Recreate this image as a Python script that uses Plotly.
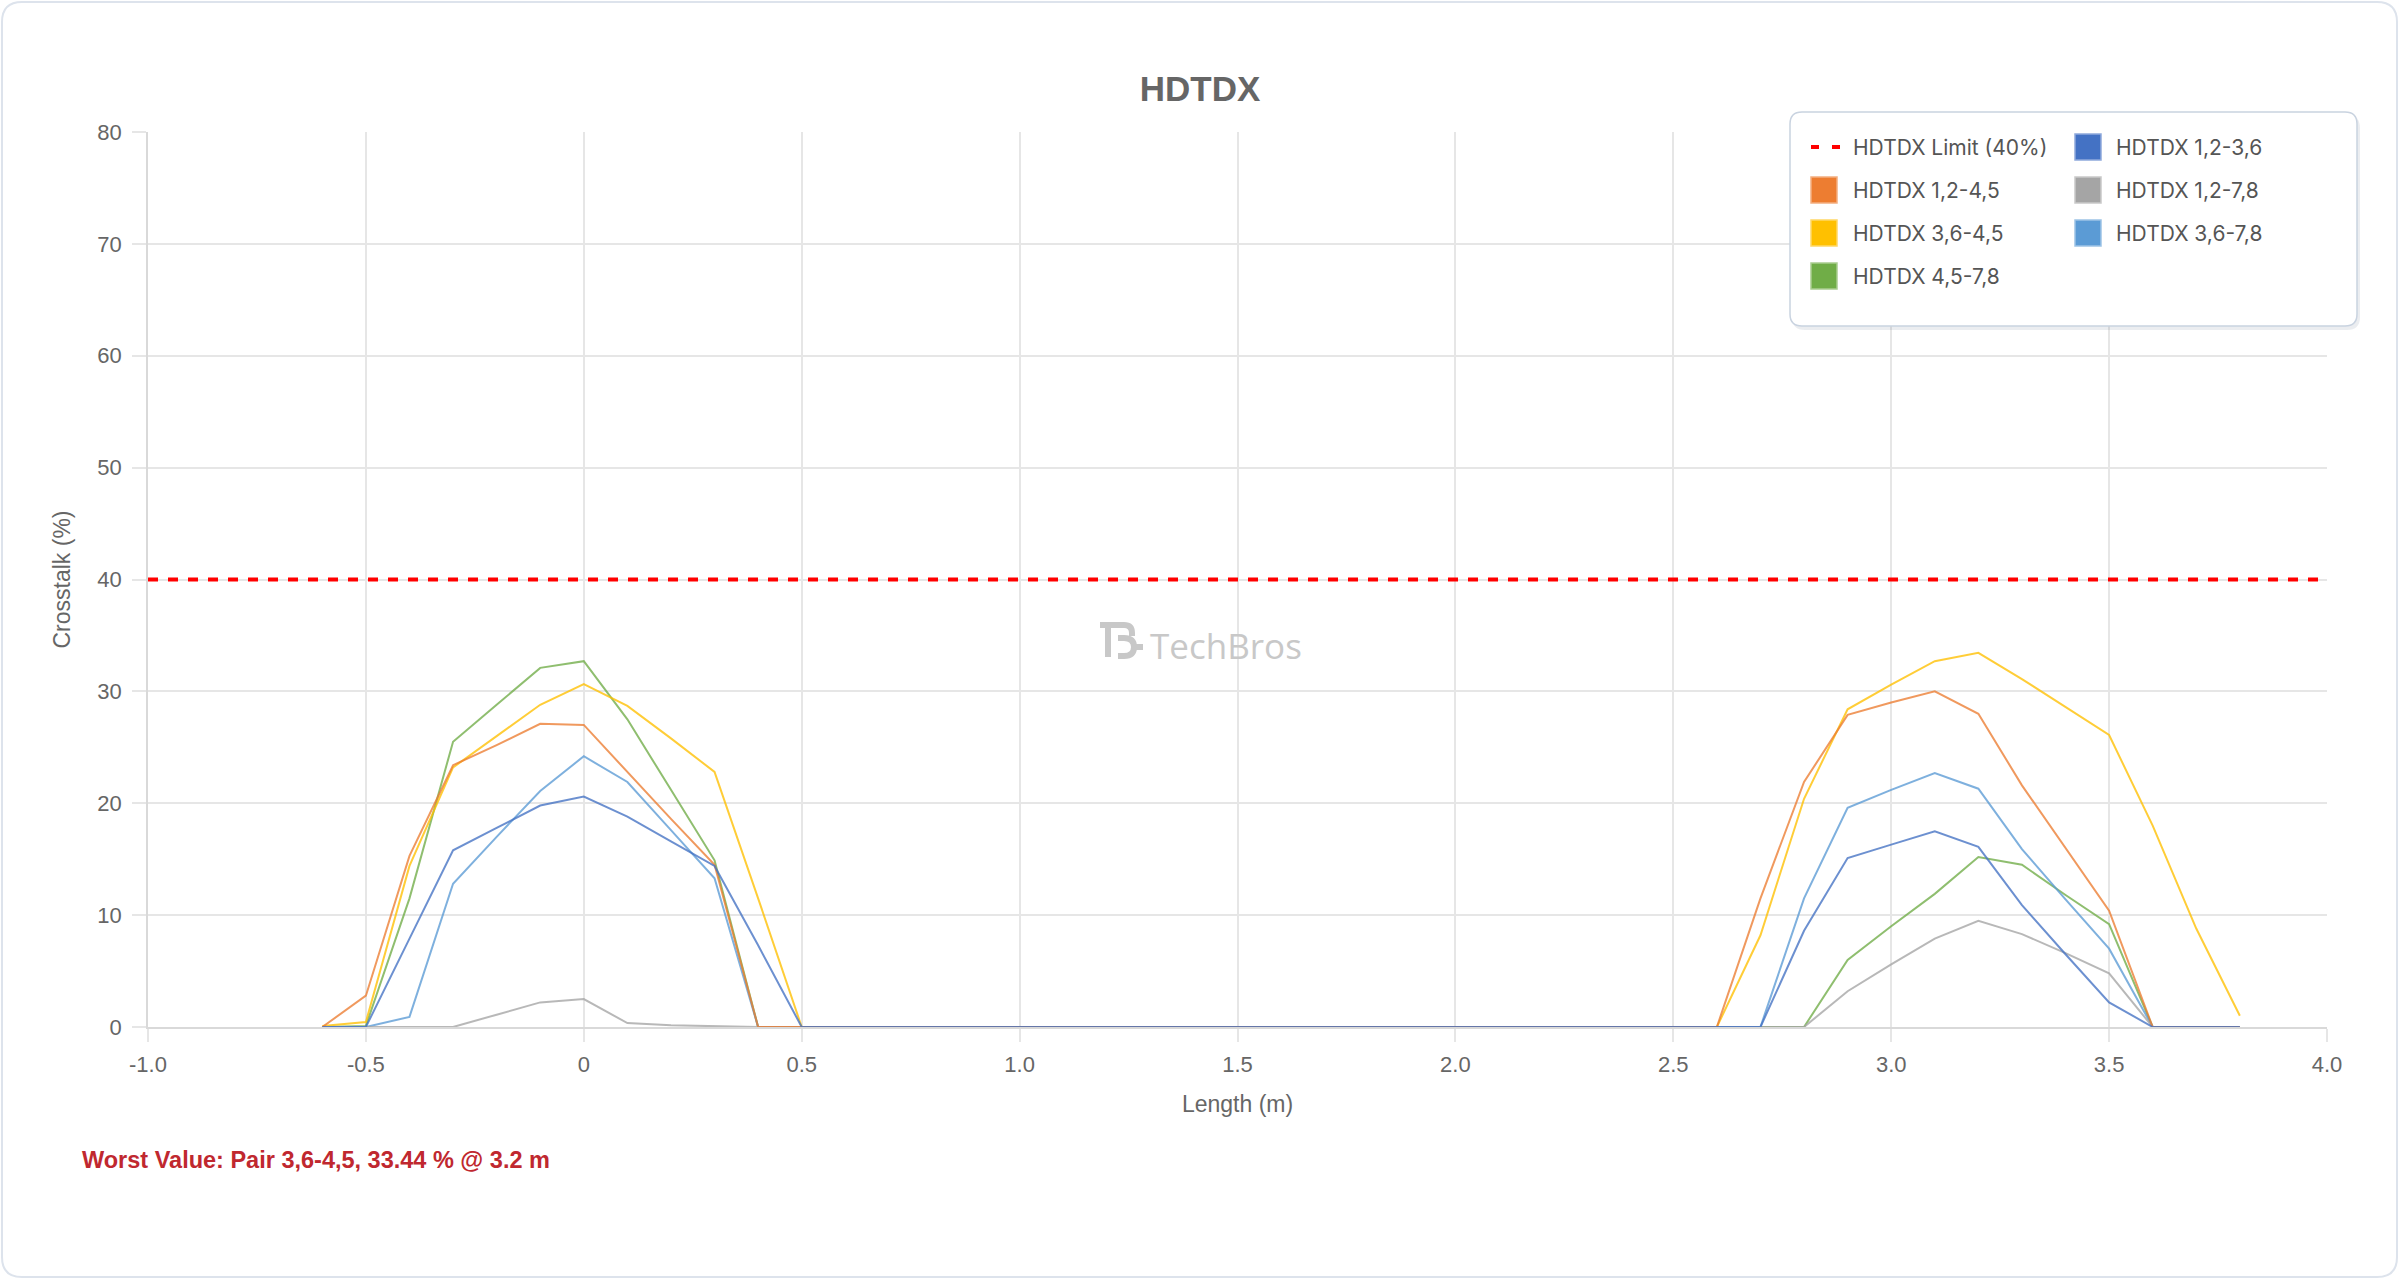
import plotly.graph_objects as go

# length positions (m)
length_m = [-0.6, -0.5, -0.4, -0.3, -0.2, -0.1, 0.0, 0.1, 0.2, 0.3, 0.4, 0.5,
            0.6, 0.7, 0.8, 0.9, 1.0, 1.1, 1.2, 1.3, 1.4, 1.5, 1.6, 1.7, 1.8, 1.9,
            2.0, 2.1, 2.2, 2.3, 2.4, 2.5,
            2.6, 2.7, 2.8, 2.9, 3.0, 3.1, 3.2, 3.3, 3.4, 3.5, 3.6, 3.7, 3.8]

# crosstalk (%) per pair combination
pair_12_36 = [0, 0, 7.9, 15.8, 17.8, 19.8, 20.6, 18.8, 16.6, 14.4, 7.3, 0,
              0, 0, 0, 0, 0, 0, 0, 0, 0, 0, 0, 0, 0, 0, 0, 0, 0, 0, 0, 0,
              0, 0, 8.6, 15.1, 16.3, 17.5, 16.1, 10.9, 6.5, 2.2, 0, 0, 0]
pair_12_45 = [0, 2.8, 15.3, 23.4, 25.2, 27.1, 27.0, 22.8, 18.6, 14.5, 0, 0,
              0, 0, 0, 0, 0, 0, 0, 0, 0, 0, 0, 0, 0, 0, 0, 0, 0, 0, 0, 0,
              0, 11.5, 21.9, 27.9, 29.0, 30.0, 28.0, 21.6, 16.0, 10.4, 0, 0, 0]
pair_12_78 = [0, 0, 0, 0, 1.1, 2.2, 2.5, 0.35, 0.15, 0.05, 0, 0,
              0, 0, 0, 0, 0, 0, 0, 0, 0, 0, 0, 0, 0, 0, 0, 0, 0, 0, 0, 0,
              0, 0, 0, 3.2, 5.6, 7.9, 9.5, 8.3, 6.6, 4.8, 0, 0, 0]
pair_36_45 = [0.1, 0.45, 14.4, 23.2, 26.0, 28.8, 30.65, 28.7, 25.8, 22.8, 11.5, 0,
              0, 0, 0, 0, 0, 0, 0, 0, 0, 0, 0, 0, 0, 0, 0, 0, 0, 0, 0, 0,
              0, 8.2, 20.4, 28.4, 30.6, 32.7, 33.44, 31.1, 28.6, 26.1, 18.0, 8.8, 1.0]
pair_36_78 = [0, 0, 0.9, 12.8, 17.0, 21.1, 24.2, 21.9, 17.6, 13.3, 0, 0,
              0, 0, 0, 0, 0, 0, 0, 0, 0, 0, 0, 0, 0, 0, 0, 0, 0, 0, 0, 0,
              0, 0, 11.5, 19.6, 21.2, 22.7, 21.3, 15.9, 11.4, 7.0, 0, 0, 0]
pair_45_78 = [0, 0.1, 11.5, 25.5, 28.8, 32.1, 32.7, 27.5, 21.2, 14.9, 0, 0,
              0, 0, 0, 0, 0, 0, 0, 0, 0, 0, 0, 0, 0, 0, 0, 0, 0, 0, 0, 0,
              0, 0, 0, 6.0, 9.0, 11.9, 15.2, 14.5, 11.8, 9.2, 0, 0, 0]

limit_x = [-1.0, 4.0]
limit_y = [40, 40]

series_names = ["HDTDX 1,2-3,6", "HDTDX 1,2-4,5", "HDTDX 1,2-7,8",
                "HDTDX 3,6-4,5", "HDTDX 3,6-7,8", "HDTDX 4,5-7,8"]
series_values = [pair_12_36, pair_12_45, pair_12_78, pair_36_45, pair_36_78, pair_45_78]
series_colors = ["#4472C4", "#ED7D31", "#A5A5A5", "#FFC000", "#5B9BD5", "#70AD47"]
box_edges = ["#8FA9DC", "#F3AE80", "#C9C9C9", "#FFD766", "#9DC3E6", "#A9CD90"]

x_ticks = [-1.0, -0.5, 0, 0.5, 1.0, 1.5, 2.0, 2.5, 3.0, 3.5, 4.0]
x_ticktext = ["-1.0", "-0.5", "0", "0.5", "1.0", "1.5", "2.0", "2.5", "3.0", "3.5", "4.0"]

W, H = 2400, 1280
L, R, T, B = 148, 2327, 132, 1027


def px(x):
    return (x - L) / (R - L)


def py(y):
    return (B - y) / (B - T)


def rrect(x0, y0, x1, y1, r):
    return (f"M {px(x0 + r)},{py(y0)} L {px(x1 - r)},{py(y0)} "
            f"Q {px(x1)},{py(y0)} {px(x1)},{py(y0 + r)} L {px(x1)},{py(y1 - r)} "
            f"Q {px(x1)},{py(y1)} {px(x1 - r)},{py(y1)} L {px(x0 + r)},{py(y1)} "
            f"Q {px(x0)},{py(y1)} {px(x0)},{py(y1 - r)} L {px(x0)},{py(y0 + r)} "
            f"Q {px(x0)},{py(y0)} {px(x0 + r)},{py(y0)} Z")


fig = go.Figure()

# chart.js paints the first dataset on top, so add them in reverse
for name, vals, col in reversed(list(zip(series_names, series_values, series_colors))):
    fig.add_trace(go.Scatter(x=length_m, y=vals, name=name, mode="lines",
                             line=dict(color=col, width=2), opacity=0.78,
                             showlegend=False))

fig.add_trace(go.Scatter(x=limit_x, y=limit_y, name="HDTDX Limit (40%)", mode="lines",
                         line=dict(color="#FF0000", width=4, dash="10px,10px"),
                         showlegend=False))

shapes = []
# card border
shapes.append(dict(type="path", xref="paper", yref="paper", layer="below",
                   path=rrect(2, 2, 2397, 1277, 20),
                   line=dict(color="#DDE3EC", width=2), fillcolor="rgba(0,0,0,0)"))
# legend box + soft shadow
shapes.append(dict(type="path", xref="paper", yref="paper", layer="above",
                   path=rrect(1792, 115, 2360, 330, 13),
                   line=dict(width=0), fillcolor="rgba(60,80,110,0.10)"))
shapes.append(dict(type="path", xref="paper", yref="paper", layer="above",
                   path=rrect(1790, 112, 2357, 326, 12),
                   line=dict(color="#C9D3E0", width=1.5), fillcolor="white"))

annotations = []
legend_font = dict(family="Inter, Noto Sans, sans-serif", size=21, color="#555555")
rows = [147, 190, 233, 276]

# limit entry
shapes.append(dict(type="line", xref="paper", yref="paper", layer="above",
                   x0=px(1811), x1=px(1841), y0=py(rows[0]), y1=py(rows[0]),
                   line=dict(color="#FF0000", width=4, dash="8px,13px")))
annotations.append(dict(xref="paper", yref="paper", x=px(1851), y=py(rows[0]),
                        text="HDTDX Limit (40%)", showarrow=False, xanchor="left",
                        yanchor="middle", font=legend_font))

# chart.js legend order is row-major over two columns
slots = [(1, 0), (0, 1), (1, 1), (0, 2), (1, 2), (0, 3)]
for (ci, ri), name, col, edge in zip(slots, series_names, series_colors, box_edges):
    cx = 1824 if ci == 0 else 2088
    tx = 1851 if ci == 0 else 2114
    cy = rows[ri]
    shapes.append(dict(type="rect", xref="paper", yref="paper", layer="above",
                       x0=px(cx - 13), x1=px(cx + 13), y0=py(cy - 13), y1=py(cy + 13),
                       fillcolor=col, line=dict(color=edge, width=1.5)))
    annotations.append(dict(xref="paper", yref="paper", x=px(tx), y=py(cy),
                            text=name, showarrow=False, xanchor="left",
                            yanchor="middle", font=legend_font))

# watermark logo
wm = "#C8C8C8"
logo_paths = [
    [(1100, 625), (1124, 625)],
    [(1108, 625), (1108, 657)],
]
for seg in logo_paths:
    shapes.append(dict(type="line", xref="paper", yref="paper", layer="above",
                       x0=px(seg[0][0]), y0=py(seg[0][1]), x1=px(seg[1][0]), y1=py(seg[1][1]),
                       line=dict(color=wm, width=6)))
shapes.append(dict(type="path", xref="paper", yref="paper", layer="above",
                   path=(f"M {px(1124)},{py(625)} Q {px(1132)},{py(625)} {px(1132)},{py(633)} "
                         f"L {px(1132)},{py(636)}"),
                   line=dict(color=wm, width=6)))
shapes.append(dict(type="path", xref="paper", yref="paper", layer="above",
                   path=(f"M {px(1118)},{py(638)} L {px(1124)},{py(638)} "
                         f"Q {px(1134)},{py(638)} {px(1134)},{py(647)} "
                         f"Q {px(1134)},{py(656)} {px(1124)},{py(656)} L {px(1118)},{py(656)}"),
                   line=dict(color=wm, width=6)))
shapes.append(dict(type="line", xref="paper", yref="paper", layer="above",
                   x0=px(1134), y0=py(647), x1=px(1143), y1=py(647),
                   line=dict(color=wm, width=6)))
annotations.append(dict(xref="paper", yref="paper", x=px(1148), y=py(645),
                        text="TechBros", showarrow=False, xanchor="left", yanchor="middle",
                        font=dict(family="Open Sans, sans-serif", size=35, color=wm)))

# worst value note
annotations.append(dict(xref="paper", yref="paper", x=px(80), y=py(1160),
                        text="<b>Worst Value: Pair 3,6-4,5, 33.44 % @ 3.2 m</b>",
                        showarrow=False, xanchor="left", yanchor="middle",
                        font=dict(family="Liberation Sans, Arial, sans-serif", size=23.5,
                                  color="#C0282F")))

tick_font = dict(family="Liberation Sans, Arial, sans-serif", size=22, color="#666666")
grid = "#E6E6E6"

fig.update_xaxes(range=[-1, 4], tickvals=x_ticks, ticktext=x_ticktext,
                 showgrid=True, gridcolor=grid, gridwidth=1.5,
                 ticks="outside", ticklen=13, tickcolor=grid, tickwidth=1.5,
                 showline=True, linecolor="#D9D9D9", linewidth=1.5,
                 zeroline=False, tickfont=tick_font, ticklabelstandoff=4,
                 title=dict(text="Length (m)", standoff=20,
                            font=dict(family="Liberation Sans, Arial, sans-serif",
                                      size=23, color="#666666")))
fig.update_yaxes(range=[0, 80], dtick=10,
                 showgrid=True, gridcolor=grid, gridwidth=1.5,
                 ticks="outside", ticklen=14, tickcolor=grid, tickwidth=1.5,
                 showline=True, linecolor="#D9D9D9", linewidth=1.5,
                 zeroline=False, tickfont=tick_font, ticklabelstandoff=6,
                 title=dict(text="Crosstalk (%)", standoff=20,
                            font=dict(family="Liberation Sans, Arial, sans-serif",
                                      size=23, color="#666666")))

fig.update_layout(
    width=W, height=H,
    margin=dict(l=L, r=W - R, t=T, b=H - B),
    paper_bgcolor="white", plot_bgcolor="white",
    title=dict(text="<b>HDTDX</b>", x=0.5, xref="container", xanchor="center",
               y=1 - 89 / H, yref="container", yanchor="middle",
               font=dict(family="Liberation Sans, Arial, sans-serif", size=35,
                         color="#666666")),
    shapes=shapes, annotations=annotations,
    showlegend=False,
)

fig.write_html("out.html", config={"displayModeBar": False},
               post_script="document.body.style.margin='0';document.body.style.overflow='hidden';")
